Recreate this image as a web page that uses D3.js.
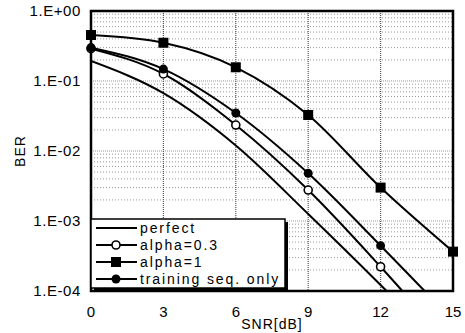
<!DOCTYPE html>
<html>
<head>
<meta charset="utf-8">
<script src="https://cdn.jsdelivr.net/npm/d3@7"></script>
<style>
  body { margin: 0; background: #fff; }
  svg { display: block; font-family: "Liberation Sans", Arial, sans-serif; }
</style>
</head>
<body>
<svg id="chart" width="465" height="333"></svg>
<script>
// SNR points (dB)
var snr = [0, 3, 6, 9, 12, 15];

// BER values
var perfect = [0.193, 0.067, 0.012, 0.00126, 0.000122, 0.000011];
var alpha03 = [0.29, 0.126, 0.0235, 0.00277, 0.000222, 0.000015];
var alpha1 = [0.454, 0.352, 0.157, 0.0327, 0.003, 0.000365];
var trainingOnly = [0.30, 0.148, 0.0349, 0.0048, 0.000444, 0.000038];

var xTicks = [0, 3, 6, 9, 12, 15];
var yTicks = [1, 0.1, 0.01, 0.001, 0.0001];
var yTickLabels = ["1.E+00", "1.E-01", "1.E-02", "1.E-03", "1.E-04"];

var seriesNames = ["perfect", "alpha=0.3", "alpha=1", "training seq. only"];
var seriesData = [perfect, alpha03, alpha1, trainingOnly];
var seriesMarker = ["none", "open", "square", "dot"];

var svg = d3.select("#chart");

var margin = {top: 11, right: 12, bottom: 42, left: 91},
    width = 465 - margin.left - margin.right,
    height = 333 - margin.top - margin.bottom;

var x = d3.scaleLinear().domain([0, 15]).range([0, width]);
var y = d3.scaleLog().domain([1e-4, 1]).range([height, 0]);

var g = svg.append("g")
    .attr("transform", "translate(" + margin.left + "," + margin.top + ")");

g.append("clipPath").attr("id", "plotclip")
  .append("rect").attr("width", width).attr("height", height);

// horizontal minor grid (log subdivisions)
var minor = [];
for (var e = -4; e < 0; e++) {
    for (var m = 1; m < 10; m++) {
        minor.push(m * Math.pow(10, e));
    }
}
g.selectAll(".hgrid")
    .data(minor)
    .enter()
    .append("line")
    .attr("class", "hgrid")
    .attr("x1", 0).attr("x2", width)
    .attr("y1", function(d){ return y(d); })
    .attr("y2", function(d){ return y(d); })
    .attr("stroke", "#999")
    .attr("stroke-width", 1)
    .attr("stroke-dasharray", function(d){ return Math.abs(Math.log10(d) % 1) < 1e-9 ? "1,1" : "1,2"; });

// vertical grid
g.selectAll(".vgrid")
    .data(xTicks.slice(1, -1))
    .enter()
    .append("line")
    .attr("class", "vgrid")
    .attr("y1", 0).attr("y2", height)
    .attr("x1", function(d){ return x(d); })
    .attr("x2", function(d){ return x(d); })
    .attr("stroke", "#555")
    .attr("stroke-width", 1.2)
    .attr("stroke-dasharray", "1,1");

// curves
var line = d3.line()
    .x(function(d, i){ return x(snr[i]); })
    .y(function(d){ return y(d); })
    .curve(d3.curveMonotoneX);

var curves = g.append("g").attr("clip-path", "url(#plotclip)");
seriesData.forEach(function(s){
    curves.append("path")
        .attr("d", line(s))
        .attr("fill", "none")
        .attr("stroke", "#000")
        .attr("stroke-width", 2);
});

function drawMarker(sel, type, cx, cy){
    if (type == "square") {
        sel.append("rect")
            .attr("x", cx - 5).attr("y", cy - 5)
            .attr("width", 10).attr("height", 10)
            .attr("fill", "#000");
    } else if (type == "dot") {
        sel.append("circle")
            .attr("cx", cx).attr("cy", cy).attr("r", 4.5)
            .attr("fill", "#000");
    } else if (type == "open") {
        sel.append("circle")
            .attr("cx", cx).attr("cy", cy).attr("r", 4)
            .attr("fill", "#fff")
            .attr("stroke", "#000")
            .attr("stroke-width", 1.6);
    }
}

// markers, only inside the plot range
var markers = g.append("g");
[1, 3, 2].forEach(function(k){
    seriesData[k].forEach(function(v, i){
        if (v >= 1e-4) drawMarker(markers, seriesMarker[k], x(snr[i]), y(v));
    });
});

// frame
g.append("rect")
    .attr("width", width).attr("height", height)
    .attr("fill", "none")
    .attr("stroke", "#000")
    .attr("stroke-width", 2.5);

// y tick labels
g.selectAll(".ylab")
    .data(yTicks)
    .enter()
    .append("text")
    .attr("x", -10)
    .attr("y", function(d){ return y(d); })
    .attr("dy", "0.35em")
    .attr("text-anchor", "end")
    .attr("font-size", 15)
    .attr("letter-spacing", 0.6)
    .text(function(d, i){ return yTickLabels[i]; });

// x tick labels
g.selectAll(".xlab")
    .data(xTicks)
    .enter()
    .append("text")
    .attr("x", function(d){ return x(d); })
    .attr("y", height + 21)
    .attr("dy", "0.35em")
    .attr("text-anchor", "middle")
    .attr("font-size", 15)
    .text(function(d){ return d; });

// axis titles
g.append("text")
    .attr("x", width / 2)
    .attr("y", height + 33)
    .attr("dy", "0.35em")
    .attr("text-anchor", "middle")
    .attr("font-size", 14)
    .attr("letter-spacing", 1)
    .text("SNR[dB]");

g.append("text")
    .attr("transform", "translate(" + (20 - margin.left) + "," + (height / 2) + ") rotate(-90)")
    .attr("dy", "0.35em")
    .attr("text-anchor", "middle")
    .attr("font-size", 14)
    .attr("letter-spacing", 1)
    .text("BER");

// legend
var lg = g.append("g").attr("transform", "translate(0," + (height - 72) + ")");
lg.append("rect")
    .attr("x", 3).attr("y", 3)
    .attr("width", 194).attr("height", 69)
    .attr("fill", "#000");
lg.append("rect")
    .attr("x", 0).attr("y", 0)
    .attr("width", 194).attr("height", 69)
    .attr("fill", "#fff")
    .attr("stroke", "#000")
    .attr("stroke-width", 1.5);

seriesNames.forEach(function(name, k){
    var ly = 9 + k * 17;
    lg.append("line")
        .attr("x1", 5).attr("x2", 46)
        .attr("y1", ly).attr("y2", ly)
        .attr("stroke", "#000")
        .attr("stroke-width", 2);
    drawMarker(lg, seriesMarker[k], 25, ly);
    lg.append("text")
        .attr("x", 49)
        .attr("y", ly)
        .attr("dy", "0.35em")
        .attr("font-size", 14)
        .attr("letter-spacing", 1.9)
        .text(name);
});
</script>
</body>
</html>
